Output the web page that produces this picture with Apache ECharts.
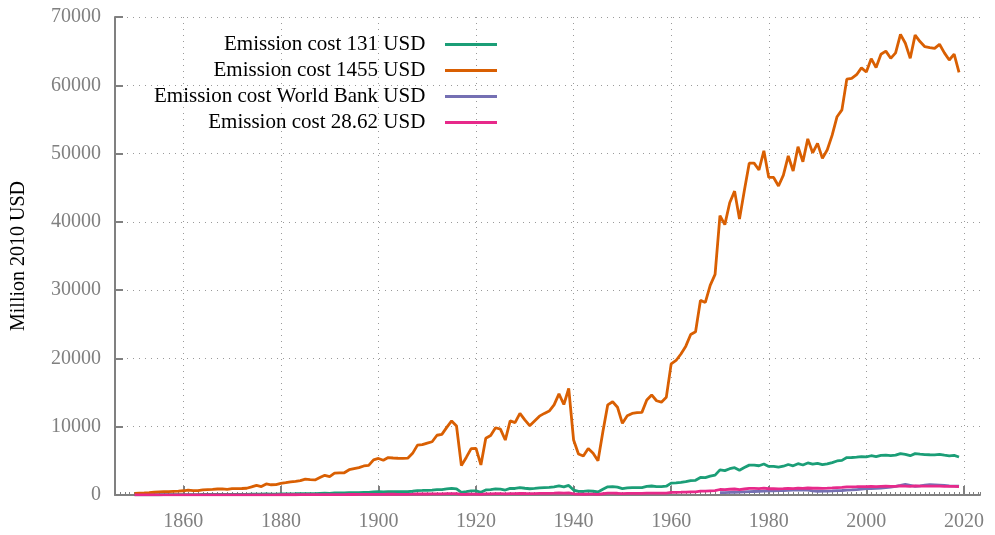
<!DOCTYPE html>
<html>
<head>
<meta charset="utf-8">
<script src="https://cdn.jsdelivr.net/npm/echarts@6/dist/echarts.min.js"></script>
<style>
  html, body { margin: 0; padding: 0; background: #ffffff; }
  #chart { width: 995px; height: 535px; }
</style>
</head>
<body>
<div id="chart"></div>
<script>
// years 1850..2019
var years = Array.from({ length: 170 }, function (_, i) { return 1850 + i; });
var wbYears = Array.from({ length: 50 }, function (_, i) { return 1970 + i; });
var xTicks = [1860, 1880, 1900, 1920, 1940, 1960, 1980, 2000, 2020];

var cost1455 = [
  250, 280, 310, 350, 400, 450, 500, 480, 520, 560,
  620, 720, 650, 640, 760, 800, 820, 880, 900, 830,
  920, 930, 950, 990, 1200, 1420, 1230, 1620, 1500, 1520,
  1700, 1800, 1920, 2000, 2100, 2320, 2250, 2200, 2550, 2880,
  2700, 3200, 3230, 3250, 3700, 3850, 4000, 4250, 4330, 5150,
  5350, 5080, 5480, 5420, 5380, 5350, 5400, 6100, 7300, 7380,
  7600, 7800, 8750, 8880, 9900, 10850, 10100, 4300, 5500, 6800,
  6820, 4400, 8300, 8700, 9850, 9650, 8050, 10850, 10600, 11950,
  11000, 10150, 10850, 11550, 11950, 12300, 13200, 14800, 13250, 15600,
  8050, 6000, 5700, 6800, 6100, 5000, 9250, 13200, 13650, 12850,
  10500, 11600, 11950, 12050, 12100, 13900, 14650, 13800, 13600, 14300,
  19200, 19700, 20650, 21800, 23500, 23900, 28500, 28200, 30700, 32300,
  40900, 39600, 42800, 44500, 40400, 44600, 48600, 48600, 47600, 50400,
  46500, 46500, 45250, 46850, 49650, 47450, 51000, 48800, 52150, 50100,
  51500, 49300, 50550, 52700, 55400, 56400, 60900, 61000, 61550, 62550,
  61950, 63900, 62600, 64550, 65000, 63950, 64750, 67450, 66150, 63950,
  67350, 66400, 65650, 65500, 65400, 66000, 64750, 63700, 64550, 61900
];

var cost131 = [
  20, 25, 30, 30, 35, 40, 45, 45, 45, 50,
  55, 65, 60, 60, 70, 70, 75, 80, 80, 75,
  85, 85, 85, 90, 110, 130, 110, 145, 135, 135,
  155, 160, 175, 180, 190, 210, 200, 200, 230, 260,
  245, 290, 290, 295, 335, 345, 360, 380, 390, 465,
  480, 455, 495, 490, 485, 480, 485, 550, 655, 665,
  685, 700, 790, 800, 890, 975, 910, 390, 495, 610,
  615, 395, 745, 785, 885, 870, 725, 975, 955, 1075,
  990, 915, 975, 1040, 1075, 1105, 1190, 1330, 1195, 1405,
  725, 540, 515, 610, 550, 450, 830, 1190, 1230, 1155,
  945, 1045, 1075, 1085, 1090, 1250, 1320, 1240, 1225, 1285,
  1730, 1775, 1860, 1960, 2115, 2150, 2565, 2540, 2765, 2905,
  3680, 3565, 3850, 4005, 3635, 4015, 4375, 4375, 4285, 4535,
  4185, 4185, 4070, 4215, 4470, 4270, 4590, 4390, 4695, 4510,
  4635, 4435, 4550, 4745, 4985, 5075, 5480, 5490, 5540, 5630,
  5575, 5750, 5635, 5810, 5850, 5755, 5830, 6070, 5955, 5755,
  6060, 5975, 5910, 5895, 5885, 5940, 5830, 5735, 5810, 5570
];

var cost2862 = [
  5, 6, 6, 7, 8, 9, 10, 9, 10, 11,
  12, 14, 13, 13, 15, 16, 16, 17, 18, 16,
  18, 18, 19, 20, 24, 28, 24, 32, 30, 30,
  33, 35, 38, 39, 41, 46, 44, 43, 50, 57,
  53, 63, 64, 64, 73, 76, 79, 84, 85, 101,
  105, 100, 108, 107, 106, 105, 106, 120, 144, 145,
  150, 154, 172, 175, 195, 214, 199, 85, 108, 134,
  134, 87, 164, 171, 194, 190, 159, 214, 209, 235,
  217, 200, 214, 228, 235, 242, 260, 292, 261, 307,
  159, 118, 112, 134, 120, 99, 182, 260, 269, 253,
  207, 229, 235, 237, 238, 274, 289, 272, 268, 282,
  378, 388, 407, 429, 463, 471, 561, 556, 605, 636,
  806, 780, 843, 877, 796, 879, 957, 957, 938, 993,
  916, 916, 891, 923, 978, 935, 1005, 961, 1027, 987,
  1015, 971, 996, 1038, 1091, 1111, 1200, 1202, 1213, 1232,
  1220, 1259, 1233, 1272, 1281, 1260, 1276, 1329, 1303, 1260,
  1327, 1308, 1293, 1290, 1288, 1300, 1276, 1255, 1272, 1219
];

var costWorldBank = [
  340, 360, 380, 400, 420, 450, 480, 510, 540, 570,
  600, 620, 640, 660, 680, 700, 710, 720, 730, 600,
  550, 560, 580, 600, 630, 660, 700, 740, 800, 860,
  920, 950, 980, 1020, 1080, 1150, 1250, 1400, 1560, 1420,
  1280, 1350, 1440, 1500, 1480, 1460, 1400, 1340, 1300, 1280
];

function pairs(xs, ys) {
  return xs.map(function (x, i) { return [x, ys[i]]; });
}

var serif = 'Liberation Serif';
var gridColor = '#9a9a9a';
var axisColor = '#808080';

var chart = echarts.init(document.getElementById('chart'));
var option = {
  animation: false,
  backgroundColor: '#ffffff',
  textStyle: { fontFamily: serif },
  grid: { left: 115, right: 15, top: 17, bottom: 40, containLabel: false },
  legend: {
    orient: 'vertical',
    align: 'right',
    right: 493,
    top: 29,
    icon: 'rect',
    itemWidth: 52,
    itemHeight: 3,
    itemGap: 5,
    formatter: function (name) { return name + '  \u2009'; },
    textStyle: { fontFamily: serif, fontSize: 21, color: '#000000', lineHeight: 20 },
    data: ['Emission cost 131 USD', 'Emission cost 1455 USD', 'Emission cost World Bank USD', 'Emission cost 28.62 USD']
  },
  xAxis: [
    {
      type: 'value',
      min: 1846,
      max: 2023.3,
      axisLine: { show: true, onZero: false, lineStyle: { color: axisColor, width: 2 } },
      axisTick: { show: true, inside: true, length: 9, customValues: xTicks, lineStyle: { color: axisColor, width: 2 } },
      axisLabel: { customValues: xTicks, color: axisColor, fontSize: 20, fontFamily: serif, margin: 17,
        formatter: function (v) { return String(v); } },
      splitLine: { show: true, customValues: xTicks, lineStyle: { color: gridColor, width: 1, type: [1, 5] } }
    },
    {
      type: 'value',
      min: 1846,
      max: 2023.3,
      interval: 1,
      position: 'bottom',
      axisLine: { show: false },
      axisTick: { show: true, inside: true, length: 3, lineStyle: { color: axisColor, width: 1 } },
      axisLabel: { show: false },
      splitLine: { show: false }
    }
  ],
  yAxis: {
    type: 'value',
    min: 0,
    max: 70000,
    interval: 10000,
    name: 'Million 2010 USD',
    nameLocation: 'middle',
    nameGap: 86,
    nameTextStyle: { color: '#000000', fontSize: 20, fontFamily: serif },
    axisLine: { show: true, lineStyle: { color: axisColor, width: 2 } },
    axisTick: { show: true, inside: true, length: 8, lineStyle: { color: axisColor, width: 2 } },
    axisLabel: { color: axisColor, fontSize: 20, fontFamily: serif, margin: 14,
      formatter: function (v) { return String(v); } },
    splitLine: { show: true, lineStyle: { color: gridColor, width: 1, type: [1, 5] } }
  },
  series: [
    {
      name: 'Emission cost 131 USD', type: 'line', showSymbol: false, color: '#1b9e77',
      lineStyle: { width: 2.8 }, data: pairs(years, cost131)
    },
    {
      name: 'Emission cost 1455 USD', type: 'line', showSymbol: false, color: '#d95f02',
      lineStyle: { width: 2.8 }, data: pairs(years, cost1455)
    },
    {
      name: 'Emission cost World Bank USD', type: 'line', showSymbol: false, color: '#7570b3',
      lineStyle: { width: 2.8 }, data: pairs(wbYears, costWorldBank)
    },
    {
      name: 'Emission cost 28.62 USD', type: 'line', showSymbol: false, color: '#e7298a',
      lineStyle: { width: 2.8 }, data: pairs(years, cost2862)
    }
  ]
};
chart.setOption(option);
</script>
</body>
</html>
